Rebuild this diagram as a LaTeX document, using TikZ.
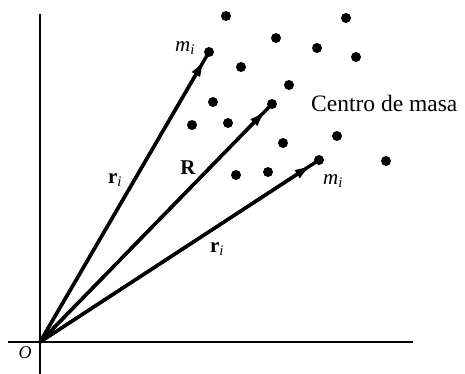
\documentclass[tikz,border=0pt]{standalone}
\usepackage{fontspec}
\setmainfont{Liberation Serif}
\usetikzlibrary{arrows.meta,calc}
\begin{document}
\begin{tikzpicture}[x=1pt,y=-1pt,
  axis/.style={line width=2pt},
  vecline/.style={line width=3.4pt},
  vec/.style={line width=3.4pt,-{Latex[length=18pt,width=10pt]}},
  pt/.style={circle,fill=black,inner sep=0pt,minimum size=10pt},
  lbl/.style={font=\fontsize{21}{23}\selectfont,inner sep=0pt}]
\useasboundingbox (0,0) rectangle (465,374);
% axes
\coordinate (O) at (40,342);
\coordinate (ytop) at (40,14);
\coordinate (ybot) at (40,374);
\coordinate (xl) at (8,342);
\coordinate (xr) at (413,342);
\draw[axis] (ybot) -- (ytop);
\draw[axis] (xl) -- (xr);
\node[lbl,font=\fontsize{18}{20}\selectfont\itshape] (olbl) at (25,353) {O};
% dots
\node[pt] (d1) at (226,16) {};
\node[pt] (d2) at (346,18) {};
\node[pt] (d3) at (276,38) {};
\node[pt] (d4) at (317,48) {};
\node[pt] (d5) at (356,57) {};
\node[pt] (m1) at (209,52) {};
\node[pt] (d6) at (241,67) {};
\node[pt] (d7) at (289,85) {};
\node[pt] (d8) at (213,102) {};
\node[pt] (cm) at (272,104) {};
\node[pt] (d9) at (192,125) {};
\node[pt] (d10) at (228,123) {};
\node[pt] (d11) at (337,136) {};
\node[pt] (d12) at (283,143) {};
\node[pt] (m2) at (319,160) {};
\node[pt] (d13) at (386,161) {};
\node[pt] (d14) at (236,175) {};
\node[pt] (d15) at (268,172) {};
% vectors
\draw[vecline] (O) -- (m1.center);
\draw[vecline] (O) -- (cm.center);
\draw[vecline] (O) -- (m2.center);
\draw[vec] (O) -- ($(m1.center)!8pt!(O)$);
\draw[vec] (O) -- ($(cm.center)!8pt!(O)$);
\draw[vec] (O) -- ($(m2.center)!8pt!(O)$);
% labels
\node[lbl] (lm1) at (185,48) {\itshape m\textsubscript{i}};
\node[lbl] (lm2) at (333,181) {\itshape m\textsubscript{i}};
\node[lbl] (lr1) at (115,180) {\textbf{r}\textsubscript{\itshape i}};
\node[lbl] (lR) at (188,168) {\textbf{R}};
\node[lbl] (lr2) at (217,249) {\textbf{r}\textsubscript{\itshape i}};
\node[inner sep=0pt,anchor=west,font=\fontsize{23.5}{26}\selectfont] (ctext) at (311,103) {Centro de masa};
\end{tikzpicture}
\end{document}
